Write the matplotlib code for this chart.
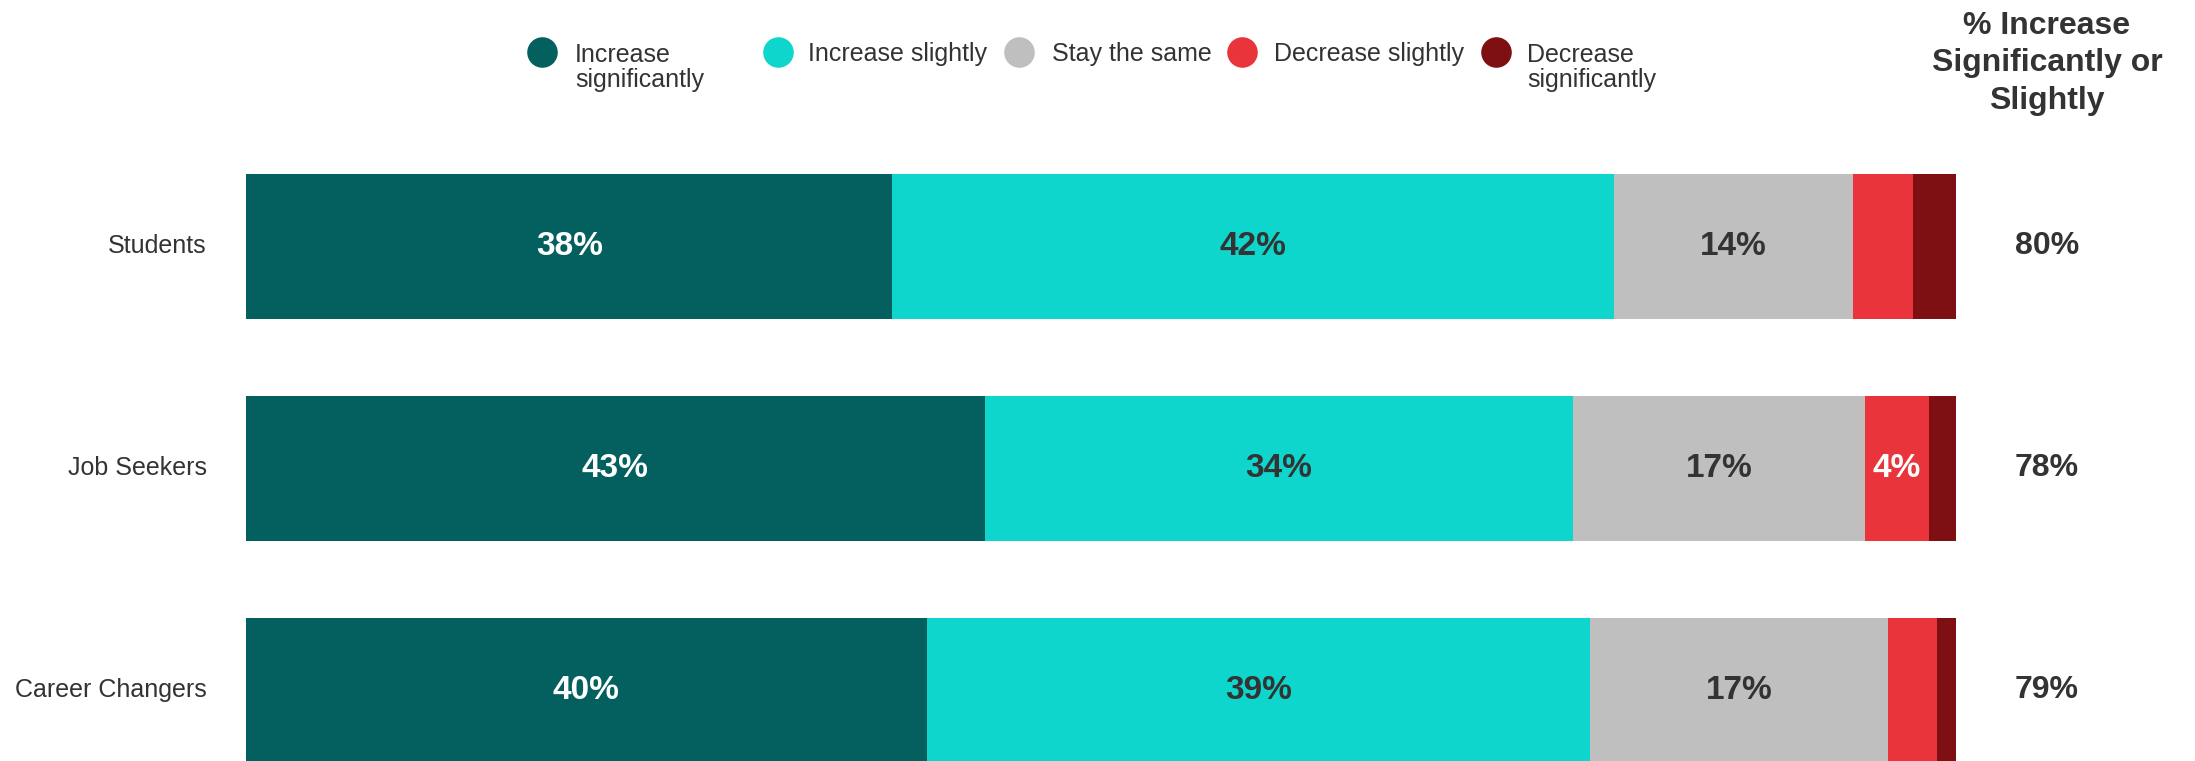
import numpy as np
import matplotlib.pyplot as plt
from matplotlib.lines import Line2D

plt.rcParams['font.family'] = ['Liberation Sans', 'DejaVu Sans']

# Data
groups = ["Students", "Job Seekers", "Career Changers"]
series = ["Increase\nsignificantly", "Increase slightly", "Stay the same",
          "Decrease slightly", "Decrease\nsignificantly"]
inc_sig = [37.8, 43.2, 39.8]
inc_slight = [42.2, 34.4, 38.8]
same = [14.0, 17.1, 17.4]
dec_slight = [3.5, 3.7, 2.9]
dec_sig = [2.5, 1.6, 1.1]
total_increase = ["80%", "78%", "79%"]

colors = ["#03605f", "#0fd6cc", "#bfbfbf", "#e8343a", "#7e0f12"]
text_colors = ["white", "#333333", "#333333", "white", "white"]
dark = "#333333"

W, H = 2195, 761
fig = plt.figure(figsize=(W / 100, H / 100), dpi=100)

# axes placed so bars land where they sit in the reference
y_top, y_bot = -0.6, 2.3176
ax = fig.add_axes([246 / W, 0, 1710 / W, 647.7 / H])
ax.set_xlim(0, 100)
ax.set_ylim(y_bot, y_top)
ax.axis("off")

ypos = np.arange(len(groups))
data = [inc_sig, inc_slight, same, dec_slight, dec_sig]
left = np.zeros(len(groups))
for vals, col, tcol in zip(data, colors, text_colors):
    vals = np.array(vals)
    ax.barh(ypos, vals, left=left, height=0.653, color=col, linewidth=0)
    for y, v, l in zip(ypos, vals, left):
        if v >= 3.6:
            ax.text(l + v / 2, y, f"{v:.0f}%", ha="center", va="center",
                    fontsize=24, fontweight="bold", color=tcol)
    left += vals

# category labels
for y, g in zip(ypos, groups):
    ax.text(-2.3, y, g, ha="right", va="center", fontsize=18, color=dark, clip_on=False)

# total column
for y, t in zip(ypos, total_increase):
    ax.text(105.3, y, t, ha="center", va="center", fontsize=23,
            fontweight="bold", color=dark, clip_on=False)

fig.text(2047 / W, 1 - 11 / H, "% Increase\nSignificantly or\nSlightly", ha="center",
         va="top", fontsize=23, fontweight="bold", color=dark, linespacing=1.32)

# legend drawn by hand
circle_x = [542, 778, 1019, 1242, 1496]
label_x = [575, 808, 1052, 1274, 1527]
for cx, lx, col, lab in zip(circle_x, label_x, colors, series):
    fig.add_artist(Line2D([cx / W], [1 - 52 / H], marker="o", markersize=21,
                          color=col, linestyle="none", transform=fig.transFigure))
    if "\n" in lab:
        fig.text(lx / W, 1 - 43 / H, lab, ha="left", va="top", fontsize=18,
                 color=dark, linespacing=1.03)
    else:
        fig.text(lx / W, 1 - 61 / H, lab, ha="left", va="baseline", fontsize=18,
                 color=dark)

fig.savefig("out.png", dpi=100)
